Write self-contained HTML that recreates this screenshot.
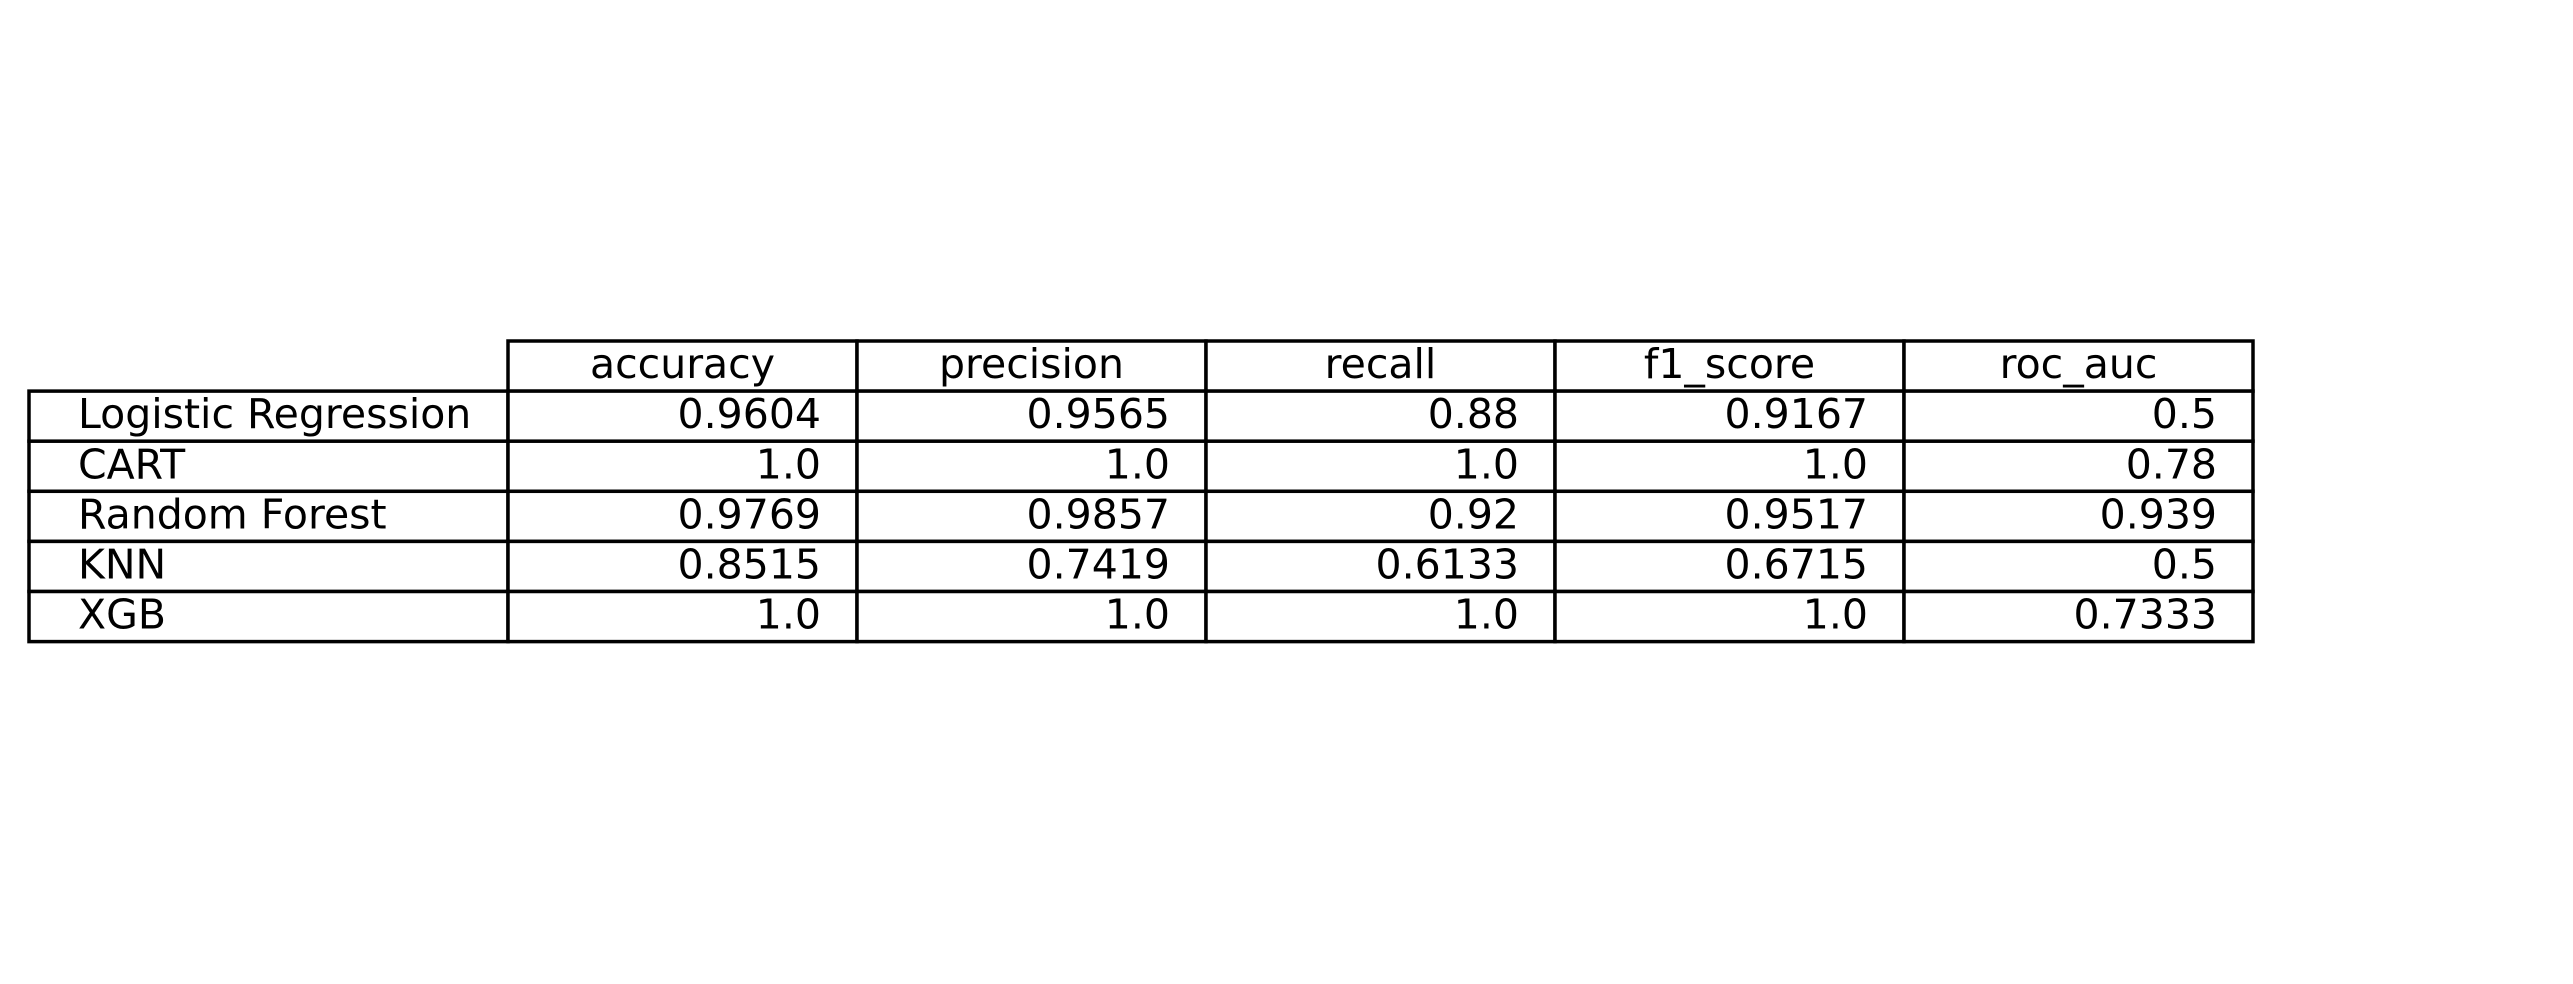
<!DOCTYPE html>
<html><head><meta charset="utf-8"><style>
html,body{margin:0;padding:0;background:#fff;}
svg{display:block;}
text{font-family:"DejaVu Sans","Liberation Sans",sans-serif;font-size:41px;fill:#000;}
</style></head><body>
<svg id="chart" width="2573" height="984" viewBox="0 0 2573 984"></svg>
<script>
const columns = ["accuracy","precision","recall","f1_score","roc_auc"];
const rowLabels = ["Logistic Regression","CART","Random Forest","KNN","XGB"];
const accuracy = ["0.9604","1.0","0.9769","0.8515","1.0"];
const precision = ["0.9565","1.0","0.9857","0.7419","1.0"];
const recall = ["0.88","1.0","0.92","0.6133","1.0"];
const f1Score = ["0.9167","1.0","0.9517","0.6715","1.0"];
const rocAuc = ["0.5","0.78","0.939","0.5","0.7333"];
const series = [accuracy, precision, recall, f1Score, rocAuc];

const svg = document.getElementById('chart');
const NS = 'http://www.w3.org/2000/svg';
const top0 = 341, rowH = 50.1, labelX0 = 29, labelX1 = 508, colW = 349;
function el(tag, attrs){const e=document.createElementNS(NS,tag);for(const k in attrs)e.setAttribute(k,attrs[k]);svg.appendChild(e);return e;}
function rect(x,y,w,h){return el('rect',{x:x,y:y,width:w,height:h,fill:'#fff',stroke:'#000','stroke-width':3.5});}
function txt(x,y,s,anchor){const t=el('text',{x:x,y:y+12,'text-anchor':anchor});t.textContent=s;return t;}

columns.forEach((c,j)=>{
  const x = labelX1 + j*colW;
  const r = rect(x, top0, colW, rowH);
  
  
  const t = txt(x + colW/2, top0 + rowH/2, c, 'middle');
  
  
});
rowLabels.forEach((lab,i)=>{
  const y = top0 + rowH*(i+1);
  const r = rect(labelX0, y, labelX1-labelX0, rowH);
  
  
  const t = txt(labelX0 + 49, y + rowH/2, lab, 'start');
  
  
  series.forEach((vals,j)=>{
    const x = labelX1 + j*colW;
    const c = rect(x, y, colW, rowH);
    
    
    const v = txt(x + colW - 36, y + rowH/2, vals[i], 'end');
    
    
  });
});
</script>
</body></html>
